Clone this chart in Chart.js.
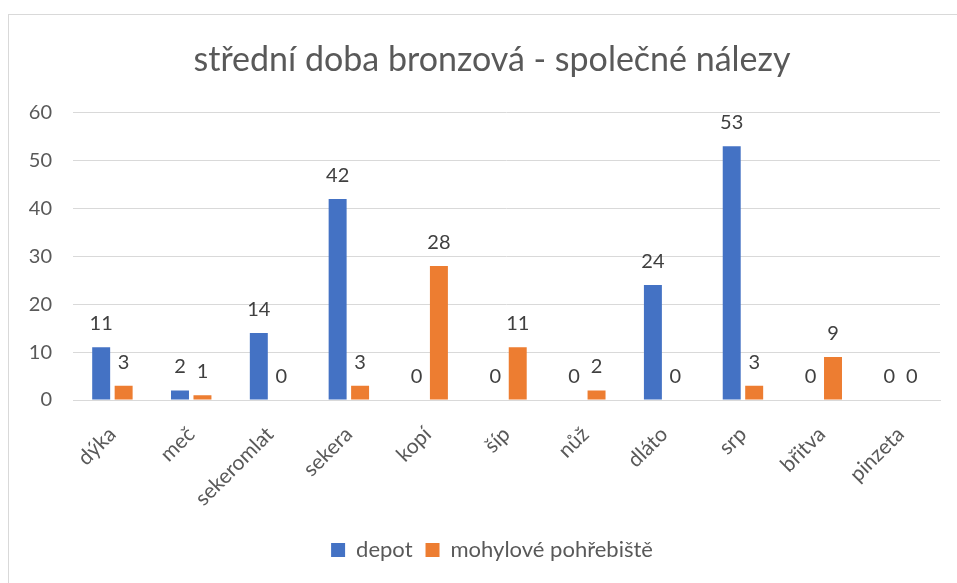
<!DOCTYPE html>
<html>
<head>
<meta charset="utf-8">
<script src="https://cdn.jsdelivr.net/npm/chart.js@4.4.1/dist/chart.umd.min.js"></script>
<style>
  html, body { margin: 0; padding: 0; background: #fff; }
  #frame {
    position: absolute; left: 8px; top: 14px; width: 960px; height: 580px;
    border: 1px solid #d9d9d9; box-sizing: border-box;
  }
  #wrap { position: absolute; left: 0; top: 0; width: 957px; height: 583px; }
</style>
</head>
<body>
<div id="frame"></div>
<div id="wrap"><canvas id="chart"></canvas></div>
<script>
// Finds per type, middle Bronze Age
const categories = ['dýka', 'meč', 'sekeromlat', 'sekera', 'kopí', 'šíp', 'nůž', 'dláto', 'srp', 'břitva', 'pinzeta']
const depot = [11, 2, 14, 42, 0, 0, 0, 24, 53, 0, 0]
const mohyly = [3, 1, 0, 3, 28, 11, 2, 0, 3, 9, 0]
const yTicks = [0, 10, 20, 30, 40, 50, 60]

const FONT = 'Lato, "Open Sans", sans-serif'
const textColor = '#595959'

// Value labels above each bar (no datalabels plugin available)
const barValues = {
  id: 'barValues',
  afterDatasetsDraw(chart) {
    const ctx = chart.ctx
    ctx.save()
    ctx.font = '20px ' + FONT
    ctx.fillStyle = '#404040'
    ctx.textAlign = 'center'
    ctx.textBaseline = 'alphabetic'
    chart.data.datasets.forEach((ds, i) => {
      chart.getDatasetMeta(i).data.forEach((bar, j) => {
        ctx.fillText(String(ds.data[j]), bar.x, bar.y - 17)
      })
    })
    ctx.restore()
  }
}

new Chart(document.getElementById('chart'), {
  type: 'bar',
  data: {
    labels: categories,
    datasets: [
      { label: 'depot', data: depot, backgroundColor: '#4472C4' },
      { label: 'mohylové pohřebiště', data: mohyly, backgroundColor: '#ED7D31' }
    ]
  },
  options: {
    responsive: true,
    maintainAspectRatio: false,
    animation: false,
    layout: { padding: { left: 27, right: 0, top: 0, bottom: 12 } },
    datasets: {
      bar: { categoryPercentage: 0.57, barPercentage: 0.8 }
    },
    plugins: {
      title: {
        display: true,
        text: 'střední doba bronzová - společné nálezy',
        color: textColor,
        font: { family: FONT, size: 34, weight: 'normal' },
        padding: { top: 40, bottom: 32 }
      },
      legend: {
        position: 'bottom',
        labels: {
          color: textColor,
          font: { family: FONT, size: 22 },
          boxWidth: 14,
          boxHeight: 14,
          padding: 13
        }
      },
      tooltip: { enabled: false }
    },
    scales: {
      x: {
        grid: { display: false },
        border: { color: '#d9d9d9', width: 1 },
        ticks: {
          color: textColor,
          font: { family: FONT, size: 21 },
          minRotation: 45,
          maxRotation: 45,
          padding: 14
        },
        afterFit(scale) { scale.height = 126 }
      },
      y: {
        min: 0,
        max: 60,
        afterBuildTicks(scale) { scale.ticks = yTicks.map(v => ({ value: v })) },
        grid: { color: '#d9d9d9', drawTicks: false },
        border: { display: false },
        ticks: {
          color: textColor,
          font: { family: FONT, size: 20 },
          padding: 21
        },
        afterFit(scale) { scale.width = 46 }
      },
      // empty right margin so the plot area ends where the frame's inner edge is
      gutter: {
        position: 'right',
        grid: { display: false },
        border: { display: false },
        ticks: { display: false },
        afterFit(scale) { scale.width = 17 }
      }
    }
  },
  plugins: [barValues]
})
</script>
</body>
</html>
